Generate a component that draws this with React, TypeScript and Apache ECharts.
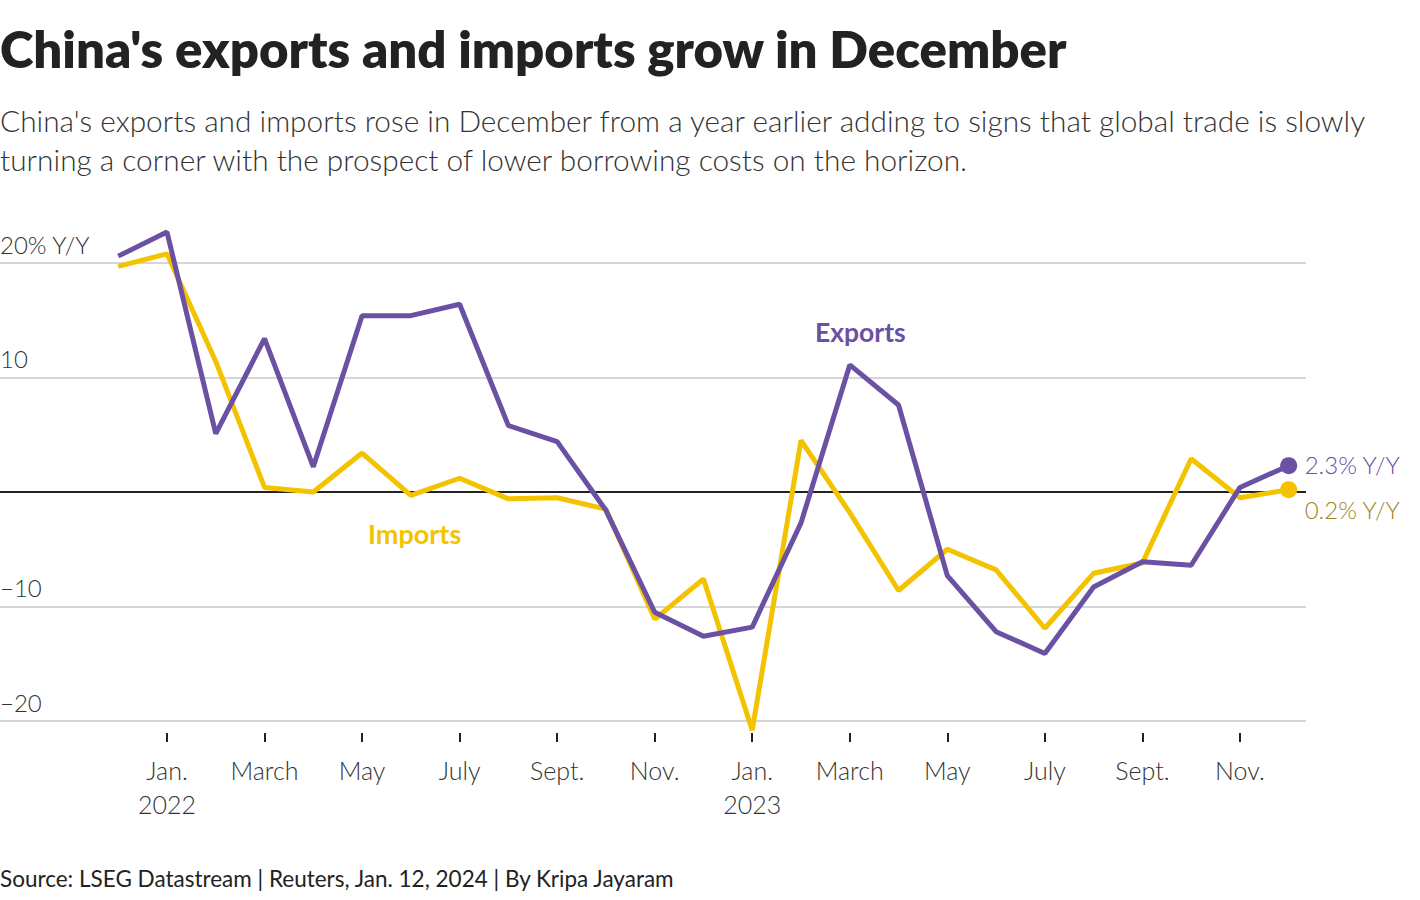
import React, { useEffect, useRef } from "react";
import * as echarts from "echarts";

// Months: index 0 = Dec 2021 ... index 24 = Dec 2023
const exportsYoY = [
  20.6, 22.7, 5.1, 13.4, 2.2, 15.4, 15.4, 16.4, 5.8, 4.4, -1.6, -10.5, -12.6,
  -11.8, -2.7, 11.1, 7.6, -7.3, -12.2, -14.1, -8.3, -6.1, -6.4, 0.4, 2.3,
];
const importsYoY = [
  19.7, 20.8, 11.4, 0.4, 0.0, 3.4, -0.3, 1.2, -0.6, -0.5, -1.5, -11.1, -7.6,
  -20.8, 4.5, -1.8, -8.6, -5.0, -6.8, -11.9, -7.1, -6.2, 2.9, -0.5, 0.2,
];
const tickIndices = [1, 3, 5, 7, 9, 11, 13, 15, 17, 19, 21, 23];
const tickLabels = [
  "Jan.\n2022", "March", "May", "July", "Sept.", "Nov.",
  "Jan.\n2023", "March", "May", "July", "Sept.", "Nov.",
];

const PURPLE = "#6a51a3";
const YELLOW = "#f4c300";
const GOLD = "#a3841c";
const FONT = "Lato, 'Noto Sans', sans-serif";

function toSeries(values: number[], dotColor: string) {
  return values.map((v, i) =>
    i === values.length - 1
      ? { value: [i, v], symbol: "circle", symbolSize: 17, itemStyle: { color: dotColor } }
      : { value: [i, v], symbol: "none" }
  );
}

export default function App() {
  const ref = useRef<HTMLDivElement>(null);
  useEffect(() => {
    if (!ref.current) return;
    const chart = echarts.init(ref.current, null, { renderer: "svg" });
    chart.setOption({
      animation: false,
      backgroundColor: "#fff",
      title: [
        {
          text: "China's exports and imports grow in December",
          left: 0,
          top: 23,
          padding: 0,
          textStyle: { fontFamily: FONT, fontWeight: 800, fontSize: 50.9, color: "#222" },
        },
        {
          text:
            "China's exports and imports rose in December from a year earlier adding to signs that global trade is slowly\nturning a corner with the prospect of lower borrowing costs on the horizon.",
          left: 0,
          top: 101,
          padding: 0,
          textStyle: { fontFamily: FONT, fontWeight: 300, fontSize: 29.8, lineHeight: 39, color: "#333" },
        },
        {
          text: "Source: LSEG Datastream | Reuters, Jan. 12, 2024 | By Kripa Jayaram",
          left: 0,
          top: 867,
          padding: 0,
          textStyle: { fontFamily: FONT, fontWeight: 400, fontSize: 22.5, color: "#222" },
        },
      ],
      grid: {
        left: 0,
        top: 263,
        width: 1306,
        height: 458,
        containLabel: false,
        outerBoundsMode: "none",
      },
      xAxis: {
        type: "value",
        position: "bottom",
        min: -2.424,
        max: 24.355,
        offset: 12,
        axisLine: { show: false, onZero: false },
        splitLine: { show: false },
        axisTick: {
          show: true,
          length: 9,
          customValues: tickIndices,
          lineStyle: { color: "#222", width: 2 },
        },
        axisLabel: {
          show: true,
          customValues: tickIndices,
          margin: 20,
          fontFamily: FONT,
          fontWeight: 300,
          fontSize: 25,
          lineHeight: 34,
          color: "#333",
          formatter: (v: number) => {
            const k = tickIndices.indexOf(Math.round(v));
            return k >= 0 ? tickLabels[k] : "";
          },
        },
      },
      yAxis: {
        type: "value",
        min: -20,
        max: 20,
        interval: 10,
        axisLine: { show: false },
        axisTick: { show: false },
        splitLine: {
          show: true,
          lineStyle: { color: "#c8c8c8", width: 1.5 },
        },
        axisLabel: {
          inside: true,
          margin: 0,
          verticalAlign: "bottom",
          padding: [0, 0, 7, 0],
          fontFamily: FONT,
          fontWeight: 300,
          fontSize: 24,
          color: "#333",
          formatter: (v: number) => {
            if (v === 20) return "20% Y/Y";
            if (v === 0) return "";
            if (v < 0) return "\u2212" + Math.abs(v);
            return String(v);
          },
        },
      },
      series: [
        {
          name: "Imports",
          type: "line",
          clip: false,
          data: toSeries(importsYoY, YELLOW),
          lineStyle: { color: YELLOW, width: 5 },
          itemStyle: { color: YELLOW },
          z: 3,
          markLine: {
            silent: true,
            symbol: "none",
            label: { show: false },
            lineStyle: { color: "#222", width: 2, type: "solid" },
            data: [{ yAxis: 0 }],
            z: 2,
          },
          endLabel: {
            show: true,
            formatter: "0.2% Y/Y",
            distance: 16,
            offset: [0, 20],
            fontFamily: FONT,
            fontWeight: 300,
            fontSize: 24,
            color: GOLD,
          },
        },
        {
          name: "Exports",
          type: "line",
          clip: false,
          data: toSeries(exportsYoY, PURPLE),
          lineStyle: { color: PURPLE, width: 5 },
          itemStyle: { color: PURPLE },
          z: 4,
          endLabel: {
            show: true,
            formatter: "2.3% Y/Y",
            distance: 16,
            offset: [0, -1],
            fontFamily: FONT,
            fontWeight: 300,
            fontSize: 24,
            color: PURPLE,
          },
        },
      ],
      graphic: [
        {
          type: "text",
          left: 815,
          top: 318,
          style: { text: "Exports", fill: PURPLE, font: `bold 26.5px ${FONT}` },
        },
        {
          type: "text",
          left: 368,
          top: 520,
          style: { text: "Imports", fill: YELLOW, font: `bold 27px ${FONT}` },
        },
      ],
    });
    return () => chart.dispose();
  }, []);
  return (
    <div
      ref={ref}
      style={{ position: "fixed", left: 0, top: 0, width: 1420, height: 900, background: "#fff" }}
    />
  );
}
